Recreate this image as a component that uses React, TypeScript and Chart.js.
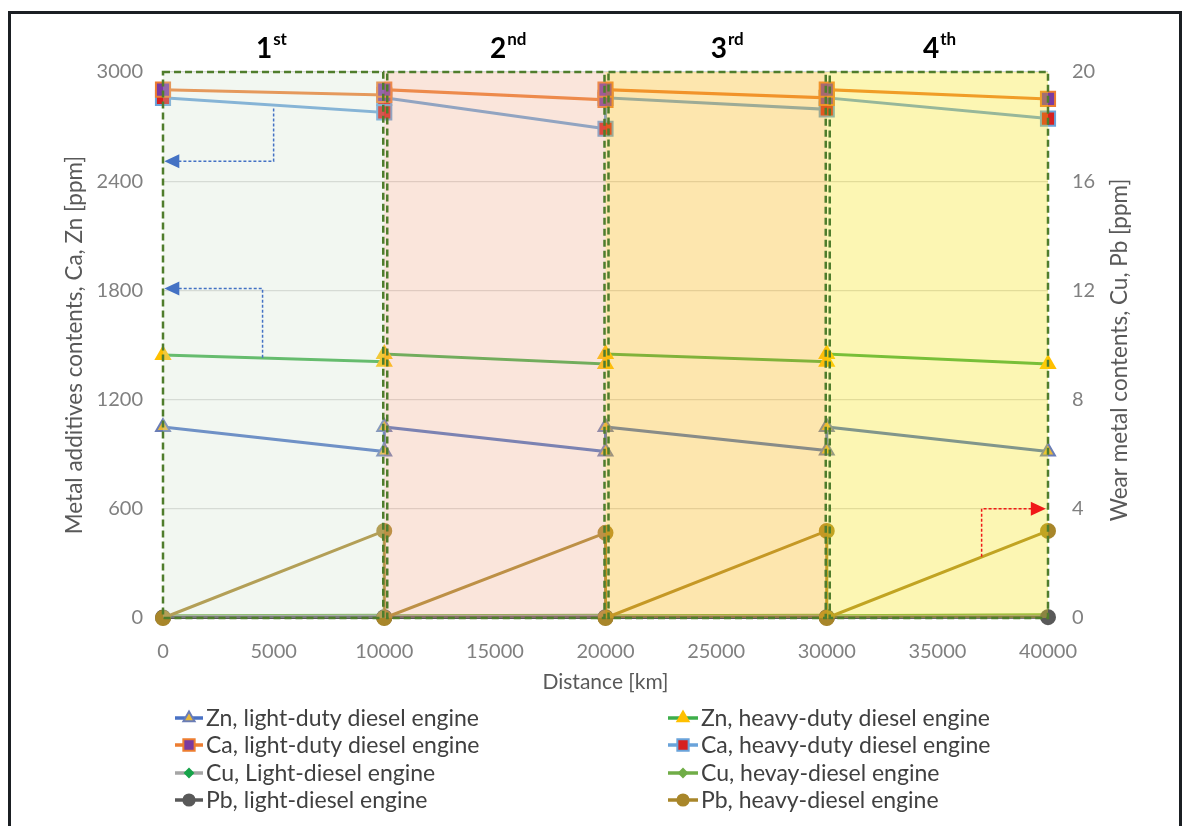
import React, { useEffect, useRef } from "react";
import { Chart, registerables } from "chart.js";
import { drawPoint } from "chart.js/helpers";

Chart.register(...registerables);

// ---- data ----
const X_KM = [0, 10000, 10000, 20000, 20000, 30000, 30000, 40000];
const ZN_LIGHT = [1050, 915, 1050, 915, 1050, 920, 1050, 915];
const ZN_HEAVY = [1445, 1408, 1450, 1396, 1450, 1408, 1450, 1396];
const CA_LIGHT = [2903, 2874, 2903, 2847, 2903, 2858, 2903, 2852];
const CA_HEAVY = [2858, 2778, 2858, 2688, 2858, 2795, 2858, 2744];
const CU_LIGHT = [0.05, 0.06, 0.05, 0.06, 0.05, 0.06, 0.05, 0.06];
const CU_HEAVY = [0.08, 0.1, 0.08, 0.1, 0.08, 0.1, 0.08, 0.12];
const PB_LIGHT = [0.02, 0.03, 0.02, 0.03, 0.02, 0.03, 0.02, 0.03];
const PB_HEAVY = [0, 3.19, 0, 3.12, 0, 3.19, 0, 3.19];

const X_TICKS_STEP = 5000;
const LEFT_RANGE = [0, 3000];
const LEFT_STEP = 600;
const RIGHT_RANGE = [0, 20];
const RIGHT_STEP = 4;

const INTERVALS = [
  [0, 10000],
  [10000, 20000],
  [20000, 30000],
  [30000, 40000],
];
const INTERVAL_NUM = ["1", "2", "3", "4"];
const INTERVAL_SUP = ["st", "nd", "rd", "th"];
const INTERVAL_LABEL_X = [4900, 15600, 25500, 35100];
const INTERVAL_TINT = [
  "rgba(210,228,205,0.28)",
  "rgba(240,168,135,0.3)",
  "rgba(250,185,30,0.36)",
  "rgba(246,228,20,0.32)",
];

// annotation arrows: [x0, y0, yCorner, xTip] on left axis; red one on right axis
const BLUE_ARROWS = [
  [5000, 2800, 2510, 60],
  [4500, 1430, 1810, 60],
];
const RED_ARROW = [37000, 2.24, 4, 39900];

const FONT = "Lato, 'Open Sans', sans-serif";

type DS = {
  label: string;
  values: number[];
  axis: string;
  line: string;
  fill: string;
  border: string;
  style: string;
  radius: number;
  order: number;
};

const SERIES: DS[] = [
  { label: "Zn, light-duty diesel engine", values: ZN_LIGHT, axis: "y", line: "#4A72C4", fill: "#E8B83A", border: "#6A7DB6", style: "triangle", radius: 8, order: 0 },
  { label: "Ca, light-duty diesel engine", values: CA_LIGHT, axis: "y", line: "#ED7D31", fill: "#7A3AA0", border: "#ED7D31", style: "rect", radius: 10, order: 0 },
  { label: "Cu, Light-diesel engine", values: CU_LIGHT, axis: "y2", line: "#A5A5A5", fill: "#17A34A", border: "#17A34A", style: "rectRot", radius: 5, order: 2 },
  { label: "Pb, light-diesel engine", values: PB_LIGHT, axis: "y2", line: "#595959", fill: "#595959", border: "#595959", style: "circle", radius: 7, order: 1 },
  { label: "Zn, heavy-duty diesel engine", values: ZN_HEAVY, axis: "y", line: "#3DAE4A", fill: "#FFC000", border: "#FFC000", style: "triangle", radius: 8, order: 0 },
  { label: "Ca, heavy-duty diesel engine", values: CA_HEAVY, axis: "y", line: "#6AA3DA", fill: "#D62020", border: "#6AA3DA", style: "rect", radius: 10, order: 1 },
  { label: "Cu, hevay-diesel engine", values: CU_HEAVY, axis: "y2", line: "#70AD47", fill: "#70AD47", border: "#70AD47", style: "rectRot", radius: 5, order: 2 },
  { label: "Pb, heavy-diesel engine", values: PB_HEAVY, axis: "y2", line: "#A8862A", fill: "#A8862A", border: "#A8862A", style: "circle", radius: 7, order: -1 },
];

const decorPlugin = {
  id: "decor",
  afterDatasetsDraw(chart: any) {
    const { ctx, chartArea, scales } = chart;
    const xs = scales.x;
    const yl = scales.y;
    const yr = scales.y2;
    ctx.save();
    INTERVALS.forEach((iv, i) => {
      const x0 = xs.getPixelForValue(iv[0]);
      const x1 = xs.getPixelForValue(iv[1]);
      ctx.fillStyle = INTERVAL_TINT[i];
      ctx.fillRect(x0, chartArea.top, x1 - x0, chartArea.bottom - chartArea.top);
    });
    ctx.strokeStyle = "#4F7D2C";
    ctx.lineWidth = 2.5;
    ctx.setLineDash([7, 4]);
    INTERVALS.forEach((iv, i) => {
      const x0 = xs.getPixelForValue(iv[0]) + (i === 0 ? 0 : 3);
      const x1 = xs.getPixelForValue(iv[1]) - (i === 3 ? 0 : 1);
      ctx.strokeRect(x0, chartArea.top, x1 - x0, chartArea.bottom - chartArea.top);
    });
    const arrow = (pts: number[][], color: string, dir: number) => {
      ctx.strokeStyle = color;
      ctx.lineWidth = 1.5;
      ctx.setLineDash([3, 2]);
      ctx.beginPath();
      ctx.moveTo(pts[0][0], pts[0][1]);
      ctx.lineTo(pts[1][0], pts[1][1]);
      ctx.lineTo(pts[2][0] - dir * 12, pts[2][1]);
      ctx.stroke();
      ctx.setLineDash([]);
      ctx.fillStyle = color;
      ctx.beginPath();
      const tx = pts[2][0];
      const ty = pts[2][1];
      ctx.moveTo(tx, ty);
      ctx.lineTo(tx - dir * 15, ty - 7);
      ctx.lineTo(tx - dir * 15, ty + 7);
      ctx.closePath();
      ctx.fill();
    };
    BLUE_ARROWS.forEach((a) => {
      const px = xs.getPixelForValue(a[0]);
      arrow(
        [
          [px, yl.getPixelForValue(a[1])],
          [px, yl.getPixelForValue(a[2])],
          [xs.getPixelForValue(a[3]), yl.getPixelForValue(a[2])],
        ],
        "#4472C4",
        -1
      );
    });
    {
      const px = xs.getPixelForValue(RED_ARROW[0]);
      arrow(
        [
          [px, yr.getPixelForValue(RED_ARROW[1])],
          [px, yr.getPixelForValue(RED_ARROW[2])],
          [xs.getPixelForValue(RED_ARROW[3]), yr.getPixelForValue(RED_ARROW[2])],
        ],
        "#F01818",
        1
      );
    }
    ctx.restore();
  },
  afterDraw(chart: any) {
    const { ctx, chartArea, scales } = chart;
    const xs = scales.x;
    ctx.save();
    ctx.strokeStyle = "#1B1F23";
    ctx.lineWidth = 3;
    ctx.strokeRect(9.5, 12.5, 1171, 830);
    ctx.fillStyle = "#000";
    ctx.textBaseline = "alphabetic";
    INTERVAL_NUM.forEach((n, i) => {
      ctx.font = `bold 28px ${FONT}`;
      const w1 = ctx.measureText(n).width;
      ctx.font = `bold 17px ${FONT}`;
      const w2 = ctx.measureText(INTERVAL_SUP[i]).width;
      const cx = xs.getPixelForValue(INTERVAL_LABEL_X[i]);
      const x0 = cx - (w1 + w2 + 1) / 2;
      ctx.font = `bold 28px ${FONT}`;
      ctx.textAlign = "left";
      ctx.fillText(n, x0, 58);
      ctx.font = `bold 17px ${FONT}`;
      ctx.fillText(INTERVAL_SUP[i], x0 + w1 + 1, 45);
    });
    ctx.fillStyle = "#595959";
    ctx.textAlign = "center";
    ctx.textBaseline = "middle";
    const cy = (chartArea.top + chartArea.bottom) / 2;
    ctx.font = `21px ${FONT}`;
    ctx.fillText("Distance [km]", (chartArea.left + chartArea.right) / 2, 682);
    ctx.font = `22.5px ${FONT}`;
    ctx.save();
    ctx.translate(75, cy);
    ctx.rotate(-Math.PI / 2);
    ctx.fillText("Metal additives contents, Ca, Zn [ppm]", 0, 0);
    ctx.restore();
    ctx.save();
    ctx.translate(1120, cy + 5);
    ctx.rotate(-Math.PI / 2);
    ctx.fillText("Wear metal contents, Cu, Pb [ppm]", 0, 0);
    ctx.restore();
    const rows = [718, 745, 773, 800];
    const cols = [
      [175, 203, 206],
      [668, 698, 701],
    ];
    ctx.font = `23px ${FONT}`;
    ctx.textAlign = "left";
    ctx.textBaseline = "middle";
    SERIES.forEach((s, i) => {
      const col = cols[Math.floor(i / 4)];
      const y = rows[i % 4];
      ctx.strokeStyle = s.line;
      ctx.lineWidth = 3.5;
      ctx.setLineDash([]);
      ctx.beginPath();
      ctx.moveTo(col[0], y);
      ctx.lineTo(col[1], y);
      ctx.stroke();
      ctx.fillStyle = s.fill;
      ctx.strokeStyle = s.border;
      ctx.lineWidth = 2;
      drawPoint(ctx, { pointStyle: s.style, radius: s.radius * 0.8, borderWidth: 2, rotation: 0 } as any, (col[0] + col[1]) / 2, y);
      ctx.fillStyle = "#404040";
      ctx.fillText(s.label, col[2], y + 1);
    });
    ctx.restore();
  },
};

export default function App() {
  const ref = useRef<HTMLCanvasElement | null>(null);
  useEffect(() => {
    if (!ref.current) return;
    const tickFont = { family: FONT, size: 20 };
    const chart = new Chart(ref.current, {
      type: "line",
      data: {
        datasets: SERIES.map((s) => ({
          label: s.label,
          data: X_KM.map((x, i) => ({ x, y: s.values[i] })),
          yAxisID: s.axis,
          order: s.order,
          borderColor: s.line,
          backgroundColor: s.fill,
          pointBackgroundColor: s.fill,
          pointBorderColor: s.border,
          pointBorderWidth: 2,
          pointStyle: s.style as any,
          pointRadius: s.radius,
          borderWidth: 3,
          tension: 0,
          fill: false,
          clip: false as any,
        })),
      },
      options: {
        animation: false,
        responsive: false,
        maintainAspectRatio: false,
        layout: { padding: { left: 20, right: 20, top: 72, bottom: 128 } },
        plugins: {
          legend: { display: false },
          tooltip: { enabled: false },
        },
        scales: {
          x: {
            type: "linear",
            min: 0,
            max: 40000,
            grid: { display: false },
            border: { display: false },
            ticks: {
              stepSize: X_TICKS_STEP,
              color: "#808080",
              font: tickFont,
              padding: 14,
              maxRotation: 0,
              callback: (v: any) => String(v),
            },
            afterFit: (s: any) => {
              s.height = 80;
            },
          },
          y: {
            position: "left",
            min: LEFT_RANGE[0],
            max: LEFT_RANGE[1],
            grid: { color: "#D9D9D9", lineWidth: 1.3, drawTicks: false },
            border: { display: false },
            ticks: { stepSize: LEFT_STEP, color: "#808080", font: tickFont, padding: 20, callback: (v: any) => String(v) },
            afterFit: (s: any) => {
              s.width = 143;
            },
          },
          y2: {
            position: "right",
            min: RIGHT_RANGE[0],
            max: RIGHT_RANGE[1],
            grid: { display: false, drawTicks: false },
            border: { display: false },
            ticks: { stepSize: RIGHT_STEP, color: "#808080", font: tickFont, padding: 24, callback: (v: any) => String(v) },
            afterFit: (s: any) => {
              s.width = 118;
            },
          },
        },
      },
      plugins: [decorPlugin],
    });
    return () => chart.destroy();
  }, []);
  return (
    <div style={{ position: "fixed", left: 0, top: 0, width: 1186, height: 826, background: "#fff" }}>
      <canvas ref={ref} width={1186} height={826} style={{ display: "block" }} />
    </div>
  );
}
